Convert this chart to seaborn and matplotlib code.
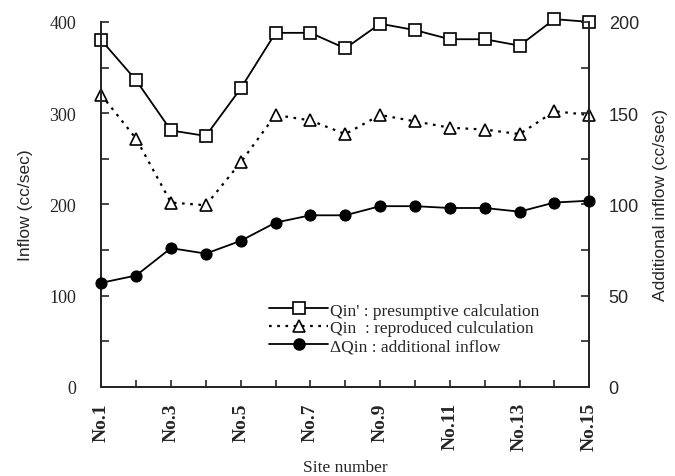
import pandas as pd
import matplotlib.pyplot as plt
import seaborn as sns
from matplotlib.ticker import MultipleLocator
from matplotlib.lines import Line2D

# values
sites = list(range(1, 16))
site_labels = ["No.%d" % s for s in sites]
qin_presumptive = [380, 336, 281, 275, 327, 388, 388, 371, 398, 391, 381, 381, 374, 403, 400]
qin_reproduced = [320, 272, 202, 199, 246, 298, 292, 277, 298, 291, 284, 282, 277, 302, 298]
dqin_additional = [57, 61, 76, 73, 80, 90, 94, 94, 99, 99, 98, 98, 96, 101, 102]

df = pd.DataFrame({"site": sites, "presumptive": qin_presumptive,
                   "reproduced": qin_reproduced, "additional": dqin_additional})

sns.set_style("ticks")
plt.rcParams['font.family'] = ['Liberation Serif', 'DejaVu Serif']
plt.rcParams['xtick.direction'] = 'in'
plt.rcParams['ytick.direction'] = 'in'

fig = plt.figure(figsize=(6.75, 4.77), dpi=100)
ax = fig.add_axes([0.150, 0.187, 0.723, 0.765])
ax2 = ax.twinx()

sq_style = dict(marker="s", markersize=8, markerfacecolor="white",
                markeredgecolor="black", markeredgewidth=1.2)
tri_style = dict(marker="^", markersize=9, markerfacecolor="white",
                 markeredgecolor="black", markeredgewidth=1.2)
dot_style = dict(marker="o", markersize=8, markerfacecolor="black",
                 markeredgecolor="black")
dotted = (0, (1.2, 2.5))

sns.lineplot(data=df, x="site", y="presumptive", ax=ax, color="black", lw=1.3,
             clip_on=False, zorder=3, **sq_style)
sns.lineplot(data=df, x="site", y="reproduced", ax=ax, color="black", lw=1.6,
             linestyle=dotted, clip_on=False, zorder=3, **tri_style)
sns.lineplot(data=df, x="site", y="additional", ax=ax2, color="black", lw=1.3,
             clip_on=False, zorder=3, **dot_style)

ax.set_xlim(1, 15)
ax.set_ylim(0, 400)
ax2.set_ylim(0, 200)

ax.set_xticks(sites)
ax.set_xticklabels([lab if i % 2 == 0 else "" for i, lab in enumerate(site_labels)],
                   rotation=90, fontweight="bold", fontsize=14)
ax.yaxis.set_major_locator(MultipleLocator(100))
ax.yaxis.set_minor_locator(MultipleLocator(50))
ax2.yaxis.set_major_locator(MultipleLocator(50))
ax2.yaxis.set_minor_locator(MultipleLocator(25))
ax.tick_params(axis="y", which="major", length=6, width=1.2, labelsize=13, pad=18)
ax.tick_params(axis="y", which="minor", length=6, width=1.2)
ax.tick_params(axis="x", length=5, width=1.2, pad=11)
ax2.tick_params(axis="y", which="major", length=6, width=1.2, labelsize=13, pad=14)
ax2.tick_params(axis="y", which="minor", length=6, width=1.2)
for lab in ax2.get_yticklabels():
    lab.set_family("Liberation Sans")

for a in (ax, ax2):
    a.spines["top"].set_visible(False)
    for s in ("left", "right", "bottom"):
        a.spines[s].set_linewidth(1.4)

ax.set_xlabel("Site number", fontsize=12.5, labelpad=6)
ax.set_ylabel("Inflow (cc/sec)", fontsize=12.5, family="Liberation Sans", labelpad=12)
ax2.set_ylabel("Additional inflow (cc/sec)", fontsize=12.5, family="Liberation Sans", labelpad=10)

handles = [
    Line2D([], [], color="black", lw=1.3, **sq_style),
    Line2D([], [], color="black", lw=1.6, linestyle=dotted, **tri_style),
    Line2D([], [], color="black", lw=1.3, **dot_style),
]
labels = ["Qin' : presumptive calculation", "Qin  : reproduced culculation",
          "\u0394Qin : additional inflow"]
ax.legend(handles, labels, loc="lower left", bbox_to_anchor=(0.33, 0.07),
          frameon=False, fontsize=12.5, handlelength=3.4, handletextpad=0.1,
          labelspacing=0.1, borderaxespad=0)

fig.savefig("out.png", dpi=100)
